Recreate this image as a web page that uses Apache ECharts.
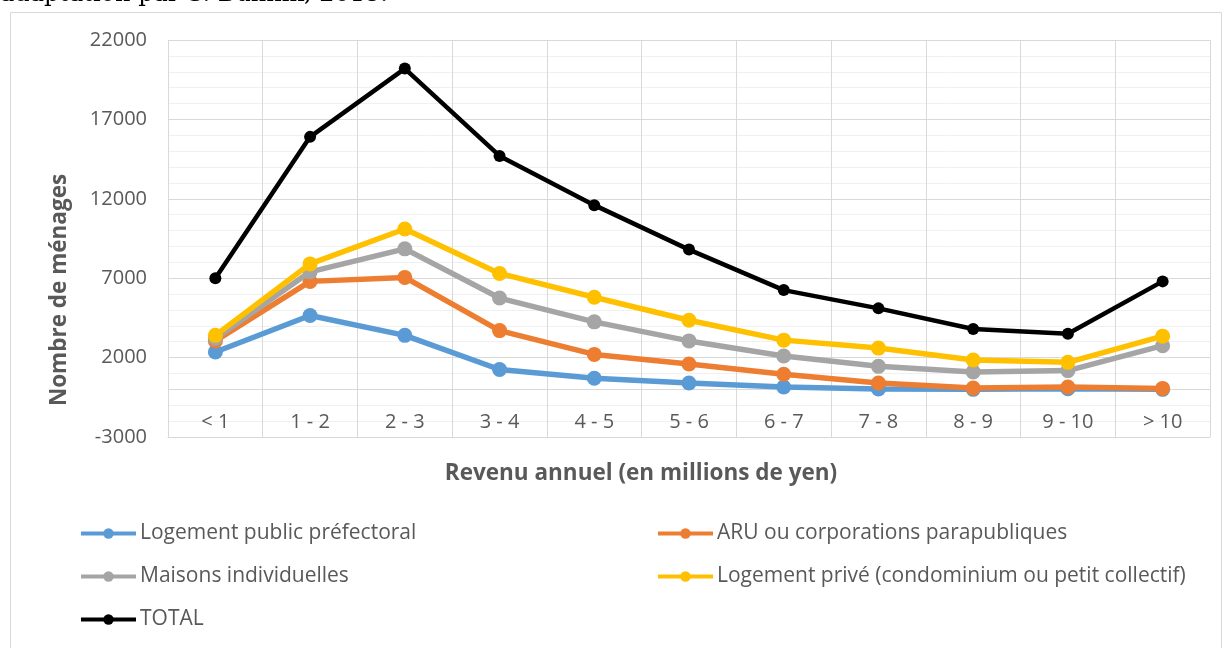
<!DOCTYPE html>
<html>
<head>
<meta charset="utf-8">
<script src="https://cdn.jsdelivr.net/npm/echarts@6/dist/echarts.min.js"></script>
<style>
html,body{margin:0;padding:0;background:#fff;}
#chart{width:1224px;height:648px;}
</style>
</head>
<body>
<div id="chart"></div>
<script>
// ---- data ----
const categories = ['< 1', '1 - 2', '2 - 3', '3 - 4', '4 - 5', '5 - 6', '6 - 7', '7 - 8', '8 - 9', '9 - 10', '> 10'];
const seriesNames = ['Logement public préfectoral', 'ARU ou corporations parapubliques', 'Maisons individuelles', 'Logement privé (condominium ou petit collectif)', 'TOTAL'];
const publicPref = [2350, 4650, 3400, 1250, 700, 400, 150, 30, 0, 40, 0];
const aru = [3050, 6800, 7050, 3700, 2200, 1600, 950, 400, 80, 150, 60];
const maisons = [3200, 7400, 8850, 5750, 4250, 3050, 2100, 1450, 1100, 1180, 2750];
const prive = [3400, 7900, 10100, 7300, 5800, 4350, 3100, 2600, 1850, 1700, 3350];
const total = [7000, 15900, 20200, 14700, 11600, 8800, 6250, 5100, 3800, 3500, 6800];
const yTicks = { min: -3000, max: 22000, interval: 5000 };
const title = 'adaptation par S. Buhnik, 2015.';
const xName = 'Revenu annuel (en millions de yen)';
const yName = 'Nombre de ménages';

const colors = ['#5b9bd5', '#ed7d31', '#a5a5a5', '#ffc000', '#000000'];
const dataSets = [publicPref, aru, maisons, prive, total];
const FONT = 'Open Sans';
const TXT = '#595959';

const chart = echarts.init(document.getElementById('chart'));
const series = dataSets.map((d, i) => ({
  name: seriesNames[i],
  type: 'line',
  data: d,
  symbol: 'circle',
  symbolSize: i === 4 ? 12 : 15,
  showSymbol: true,
  z: 2 + i,
  lineStyle: { width: i === 4 ? 4.5 : 5.5, color: colors[i] },
  itemStyle: { color: colors[i], borderWidth: 0 },
  emphasis: { disabled: true },
  animation: false
}));
series[0].markLine = {
  silent: true, symbol: ['none', 'none'], label: { show: false },
  lineStyle: { color: '#d9d9d9', type: 'solid', width: 1 },
  data: [{ yAxis: 0 }], animation: false, z: 1
};

const legendCommon = {
  orient: 'vertical', itemWidth: 55, itemHeight: 13, itemGap: 22,
  lineStyle: { width: 4 },
  textStyle: { fontFamily: FONT, fontSize: 21, color: TXT, padding: [0, 0, 0, -1] },
  selectedMode: false
};

chart.setOption({
  animation: false,
  textStyle: { fontFamily: FONT },
  grid: { left: 168, right: 14, top: 40, bottom: 211 },
  xAxis: {
    type: 'category', data: categories, boundaryGap: true,
    axisLine: { onZero: false, lineStyle: { color: '#d9d9d9' } },
    axisTick: { show: false },
    axisLabel: { inside: true, margin: 5, fontFamily: FONT, fontSize: 20, color: TXT, interval: 0 },
    splitLine: { show: true, interval: 0, lineStyle: { color: '#d9d9d9' } }
  },
  yAxis: {
    type: 'value', min: yTicks.min, max: yTicks.max, interval: yTicks.interval,
    axisLine: { show: false }, axisTick: { show: false },
    axisLabel: { margin: 21, fontFamily: FONT, fontSize: 20, color: TXT, formatter: v => String(v) },
    splitLine: { show: true, lineStyle: { color: '#d9d9d9' } },
    minorTick: { show: false, splitNumber: 5 },
    minorSplitLine: { show: true, lineStyle: { color: '#f0f0f0' } }
  },
  legend: [
    Object.assign({ left: 74, top: 518, data: [seriesNames[0], seriesNames[2], seriesNames[4]] }, legendCommon),
    Object.assign({ left: 651, top: 518, data: [seriesNames[1], seriesNames[3]] }, legendCommon)
  ],
  graphic: [
    { type: 'rect', shape: { x: 10.5, y: 12.5, width: 1211, height: 660 }, style: { fill: 'none', stroke: '#d9d9d9', lineWidth: 1 }, silent: true, z: -1 },
    { type: 'text', left: 0, top: -17, style: { text: title, font: '24px "DejaVu Serif"', fill: '#000' }, silent: true },
    { type: 'text', x: 60, y: 290, rotation: Math.PI / 2, style: { text: yName, font: 'bold 22.5px "Open Sans"', fill: TXT, align: 'center', verticalAlign: 'middle' }, silent: true },
    { type: 'text', x: 641, y: 474, style: { text: xName, font: 'bold 22.5px "Open Sans"', fill: TXT, align: 'center', verticalAlign: 'middle' }, silent: true }
  ],
  series: series
});
</script>
</body>
</html>
